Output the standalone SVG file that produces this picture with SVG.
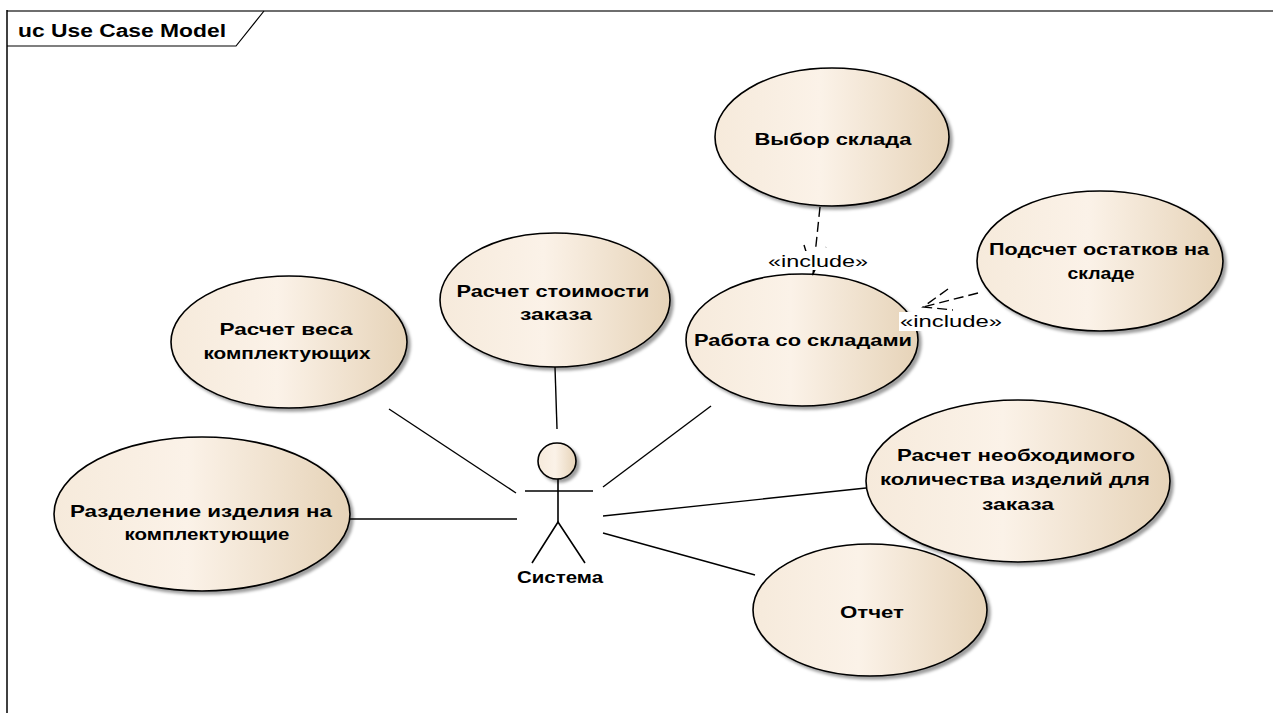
<svg xmlns="http://www.w3.org/2000/svg" width="1273" height="713" viewBox="0 0 1273 713">
  <defs>
    <linearGradient id="ucFill" x1="0" y1="0" x2="1" y2="0">
      <stop offset="0" stop-color="#F6EADB"/>
      <stop offset="0.45" stop-color="#FBF2E8"/>
      <stop offset="1" stop-color="#E6D3B8"/>
    </linearGradient>
    <filter id="shadow" x="-10%" y="-10%" width="130%" height="130%">
      <feDropShadow dx="3" dy="3" stdDeviation="1.6" flood-color="#000" flood-opacity="0.38"/>
    </filter>
    <style>
      .uc { fill: url(#ucFill); stroke: #000; stroke-width: 1.6; filter: url(#shadow); }
      .lbl { font-family: "Liberation Sans", Arial, sans-serif; font-size: 17px; font-weight: bold; fill: #000; text-anchor: middle; }
      .title { font-family: "Liberation Sans", Arial, sans-serif; font-size: 18px; font-weight: bold; fill: #000; }
      .stereo { font-family: "Liberation Sans", Arial, sans-serif; font-size: 16px; fill: #000; text-anchor: middle; }
      .assoc { stroke: #000; stroke-width: 1.4; fill: none; }
      .dep { stroke: #000; stroke-width: 1.4; fill: none; stroke-dasharray: 10 5; }
      .actor { stroke: #000; stroke-width: 1.6; fill: none; }
    </style>
  </defs>

  <rect width="1273" height="713" fill="#fff"/>

  <!-- diagram frame with name tab -->
  <g id="frame">
    <line x1="7" y1="11" x2="1273" y2="11" stroke="#6e6e6e" stroke-width="2"/>
    <line x1="7" y1="10" x2="7" y2="713" stroke="#000" stroke-width="1.5"/>
    <polyline points="7,46 236,46 264,11" fill="none" stroke="#000" stroke-width="1.2"/>
    <text class="title" x="18" y="37" textLength="208" lengthAdjust="spacingAndGlyphs">uc Use Case Model</text>
  </g>

  <!-- use cases -->
  <g id="uc-vybor-sklada">
    <ellipse class="uc" cx="832" cy="137" rx="117" ry="69"/>
    <text class="lbl" x="833" y="145" textLength="157" lengthAdjust="spacingAndGlyphs">Выбор склада</text>
  </g>
  <g id="uc-podschet-ostatkov">
    <ellipse class="uc" cx="1100" cy="261" rx="123" ry="70"/>
    <text class="lbl" x="1099" y="255" textLength="220" lengthAdjust="spacingAndGlyphs">Подсчет остатков на</text>
    <text class="lbl" x="1101" y="279" textLength="67" lengthAdjust="spacingAndGlyphs">складе</text>
  </g>
  <g id="uc-rabota-so-skladami">
    <ellipse class="uc" cx="802" cy="340" rx="116" ry="66"/>
    <text class="lbl" x="803" y="346" textLength="218" lengthAdjust="spacingAndGlyphs">Работа со складами</text>
  </g>
  <g id="uc-raschet-stoimosti">
    <ellipse class="uc" cx="555" cy="300" rx="115" ry="67"/>
    <text class="lbl" x="553" y="297" textLength="193" lengthAdjust="spacingAndGlyphs">Расчет стоимости</text>
    <text class="lbl" x="556" y="320" textLength="72" lengthAdjust="spacingAndGlyphs">заказа</text>
  </g>
  <g id="uc-raschet-vesa">
    <ellipse class="uc" cx="289" cy="342" rx="118" ry="66"/>
    <text class="lbl" x="286" y="335" textLength="133" lengthAdjust="spacingAndGlyphs">Расчет веса</text>
    <text class="lbl" x="287" y="359" textLength="167" lengthAdjust="spacingAndGlyphs">комплектующих</text>
  </g>
  <g id="uc-razdelenie">
    <ellipse class="uc" cx="202" cy="514" rx="148" ry="77"/>
    <text class="lbl" x="201" y="517" textLength="262" lengthAdjust="spacingAndGlyphs">Разделение изделия на</text>
    <text class="lbl" x="207" y="540" textLength="165" lengthAdjust="spacingAndGlyphs">комплектующие</text>
  </g>
  <g id="uc-raschet-kolichestva">
    <ellipse class="uc" cx="1018" cy="481" rx="152" ry="81"/>
    <text class="lbl" x="1016" y="461" textLength="238" lengthAdjust="spacingAndGlyphs">Расчет необходимого</text>
    <text class="lbl" x="1015" y="485" textLength="270" lengthAdjust="spacingAndGlyphs">количества изделий для</text>
    <text class="lbl" x="1018" y="510" textLength="72" lengthAdjust="spacingAndGlyphs">заказа</text>
  </g>
  <g id="uc-otchet">
    <ellipse class="uc" cx="870" cy="610" rx="117" ry="66"/>
    <text class="lbl" x="872" y="618" textLength="64" lengthAdjust="spacingAndGlyphs">Отчет</text>
  </g>

  <!-- actor -->
  <g id="actor-sistema">
    <ellipse class="uc" cx="557" cy="461" rx="19" ry="18"/>
    <line class="actor" x1="558" y1="479" x2="558" y2="522"/>
    <line class="actor" x1="525" y1="491" x2="593" y2="491"/>
    <polyline class="actor" points="532,563 558,522 585,563"/>
    <text class="lbl" x="560" y="583" textLength="86" lengthAdjust="spacingAndGlyphs">Система</text>
  </g>

  <!-- associations and include dependencies -->
  <g id="connectors">
    <line class="assoc" x1="555" y1="367" x2="557" y2="429"/>
    <line class="assoc" x1="389" y1="409" x2="516" y2="493"/>
    <line class="assoc" x1="350" y1="519" x2="517" y2="519"/>
    <line class="assoc" x1="711" y1="406" x2="603" y2="487"/>
    <line class="assoc" x1="866" y1="488" x2="603" y2="516"/>
    <line class="assoc" x1="755" y1="575" x2="603" y2="533"/>

    <!-- Работа со складами includes Выбор склада -->
    <line class="dep" x1="820" y1="207" x2="813" y2="274"/>
    <polyline class="dep" points="804,245 813,274 826,247"/>
    <rect x="766" y="251" width="104" height="19" fill="#fff"/>
    <text class="stereo" x="818" y="267" textLength="100" lengthAdjust="spacingAndGlyphs">«include»</text>

    <!-- Работа со складами includes Подсчет остатков на складе -->
    <line class="dep" x1="978" y1="293" x2="923" y2="307"/>
    <polyline class="dep" points="948,289 923,307 953,310"/>
    <rect x="899" y="312" width="106" height="19" fill="#fff"/>
    <text class="stereo" x="951" y="327" textLength="102" lengthAdjust="spacingAndGlyphs">«include»</text>
  </g>
</svg>
